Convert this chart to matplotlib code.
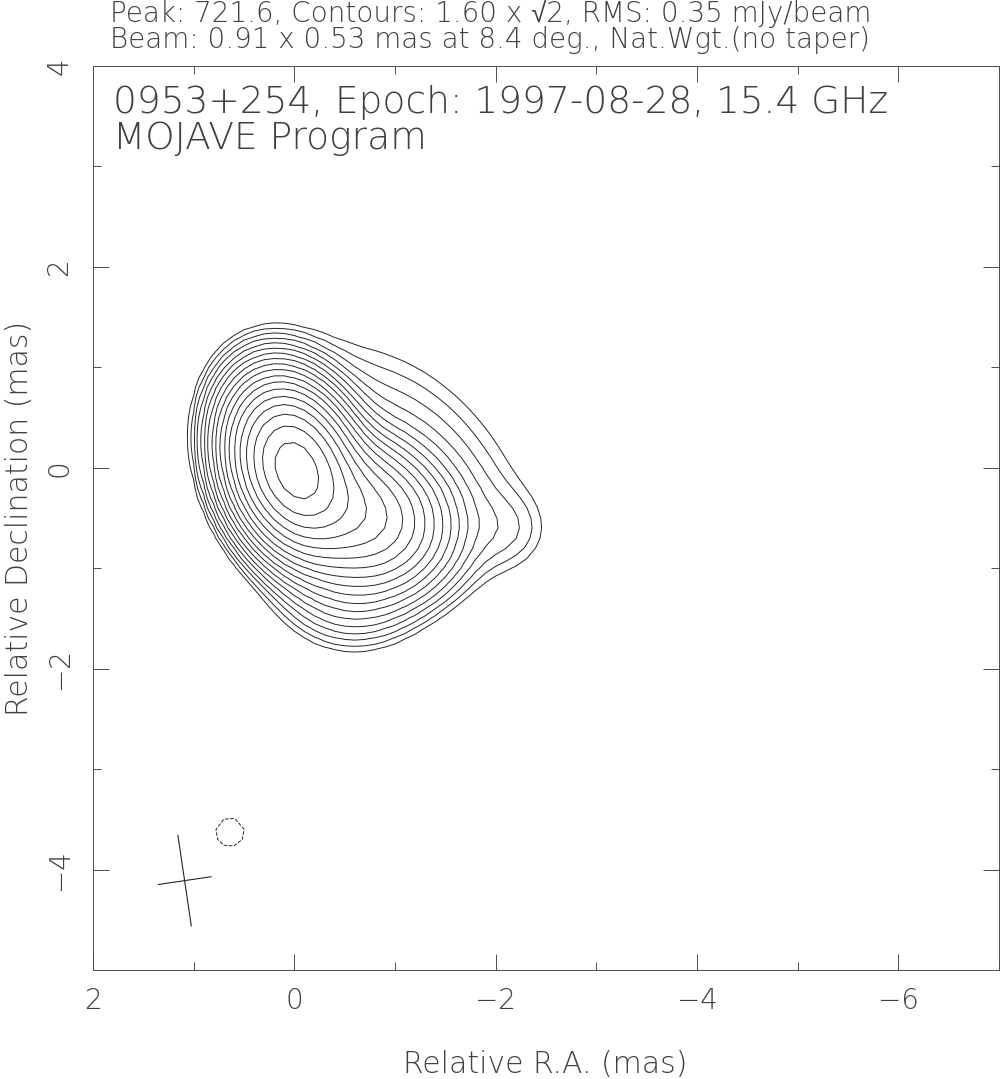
import numpy as np
import matplotlib.pyplot as plt

# map header values
source = '0953+254'
epoch = '1997-08-28'
freq = 15.4
peak = 721.6
base_level = 1.60
rms = 0.35
beam_major, beam_minor, beam_pa = 0.91, 0.53, 8.4
beam_x, beam_y = 1.09, -4.11

# gaussian components: position (mas), peak (mJy/beam), fwhm (mas), pa (deg)
comp_x = [0.0, -0.65, -1.55, -2.12, -1.05, -0.55, 0.64]
comp_y = [0.0, -0.45, -0.5, -0.62, 0.22, -1.12, -3.63]
comp_peak = [700.0, 170.0, 1.5, 2.0, 4.5, 13.0, -2.3]
comp_maj = [0.965, 1.0, 0.9, 0.6, 2.0, 0.9, 0.4]
comp_min = [0.67, 0.8, 0.9, 0.6, 1.2, 0.8, 0.4]
comp_pa = [19.0, 60.0, 0.0, 0.0, 50.0, 80.0, 0.0]

# map grid, 0.1 mas pixels
ra = np.arange(-7.0, 2.001, 0.1)
dec = np.arange(-5.0, 4.001, 0.1)
X, Y = np.meshgrid(ra, dec)
img = np.zeros_like(X)
for x0, y0, s0, a, b, pa in zip(comp_x, comp_y, comp_peak, comp_maj, comp_min, comp_pa):
    p = np.radians(pa)
    u = (X - x0) * np.sin(p) + (Y - y0) * np.cos(p)
    v = (X - x0) * np.cos(p) - (Y - y0) * np.sin(p)
    sa, sb = a / 2.3548, b / 2.3548
    img += s0 * np.exp(-0.5 * (u**2 / sa**2 + v**2 / sb**2))

levels = []
lev = base_level
while lev < peak:
    levels.append(lev)
    lev *= np.sqrt(2)

fams = ['DejaVu Sans', 'Liberation Sans', 'Noto Sans']
txt = dict(color='0.25', fontweight='light', family=fams)

fig = plt.figure(figsize=(10.01, 10.79), dpi=100)
ax = fig.add_axes([0.0929, 0.1010, 0.9051, 0.8378])

ax.contour(X, Y, img, levels=levels, colors='0.15', linewidths=0.7)
ax.contour(X, Y, img, levels=[-base_level], colors='0.15', linewidths=0.7, linestyles='dashed')

# beam cross
pa = np.radians(beam_pa)
ax.plot([beam_x + 0.5*beam_major*np.sin(pa), beam_x - 0.5*beam_major*np.sin(pa)],
        [beam_y + 0.5*beam_major*np.cos(pa), beam_y - 0.5*beam_major*np.cos(pa)], color='0.15', lw=0.8)
ax.plot([beam_x + 0.5*beam_minor*np.cos(pa), beam_x - 0.5*beam_minor*np.cos(pa)],
        [beam_y - 0.5*beam_minor*np.sin(pa), beam_y + 0.5*beam_minor*np.sin(pa)], color='0.15', lw=0.8)

ax.set_xlim(2, -7)
ax.set_ylim(-5, 4)
ax.set_xticks([2, 0, -2, -4, -6])
ax.set_xticks(np.arange(-7, 2.1, 1), minor=True)
ax.set_yticks([-4, -2, 0, 2, 4])
ax.set_yticks(np.arange(-5, 4.1, 1), minor=True)
ax.tick_params(which='both', direction='in', top=True, right=True, width=0.7, color='0.3')
ax.tick_params(which='major', length=11.5, labelsize=20, labelcolor='0.25')
ax.tick_params(which='minor', length=5.8)
ax.tick_params(axis='x', pad=12)
ax.tick_params(axis='y', pad=14, labelrotation=90)
for t in ax.get_xticklabels() + ax.get_yticklabels():
    t.set_fontweight('light')
for t in ax.get_yticklabels():
    t.set_va('center')
for s in ax.spines.values():
    s.set_linewidth(0.7)
    s.set_color('0.3')

ax.text(0.022, 0.948, '%s, Epoch: %s, %.1f GHz' % (source, epoch, freq),
        transform=ax.transAxes, fontsize=27, va='baseline', **txt)
ax.text(0.022, 0.908, 'MOJAVE Program', transform=ax.transAxes, fontsize=27,
        va='baseline', **txt)

fig.text(0.110, 1 - 22/1079, 'Peak: %.1f, Contours: %.2f x \u221a2, RMS: %.2f mJy/beam' % (peak, base_level, rms),
         fontsize=20, va='baseline', **txt)
fig.text(0.110, 1 - 48/1079, 'Beam: %.2f x %.2f mas at %.1f deg., Nat.Wgt.(no taper)' % (beam_major, beam_minor, beam_pa),
         fontsize=20, va='baseline', **txt)
fig.text(545/1001, 1 - 1073/1079, 'Relative R.A. (mas)', fontsize=21.5,
         ha='center', va='baseline', **txt)
fig.text(20/1001, 0.52, 'Relative Declination (mas)', fontsize=21.5,
         rotation=90, ha='center', va='center', **txt)

fig.savefig('out.png', dpi=100)
